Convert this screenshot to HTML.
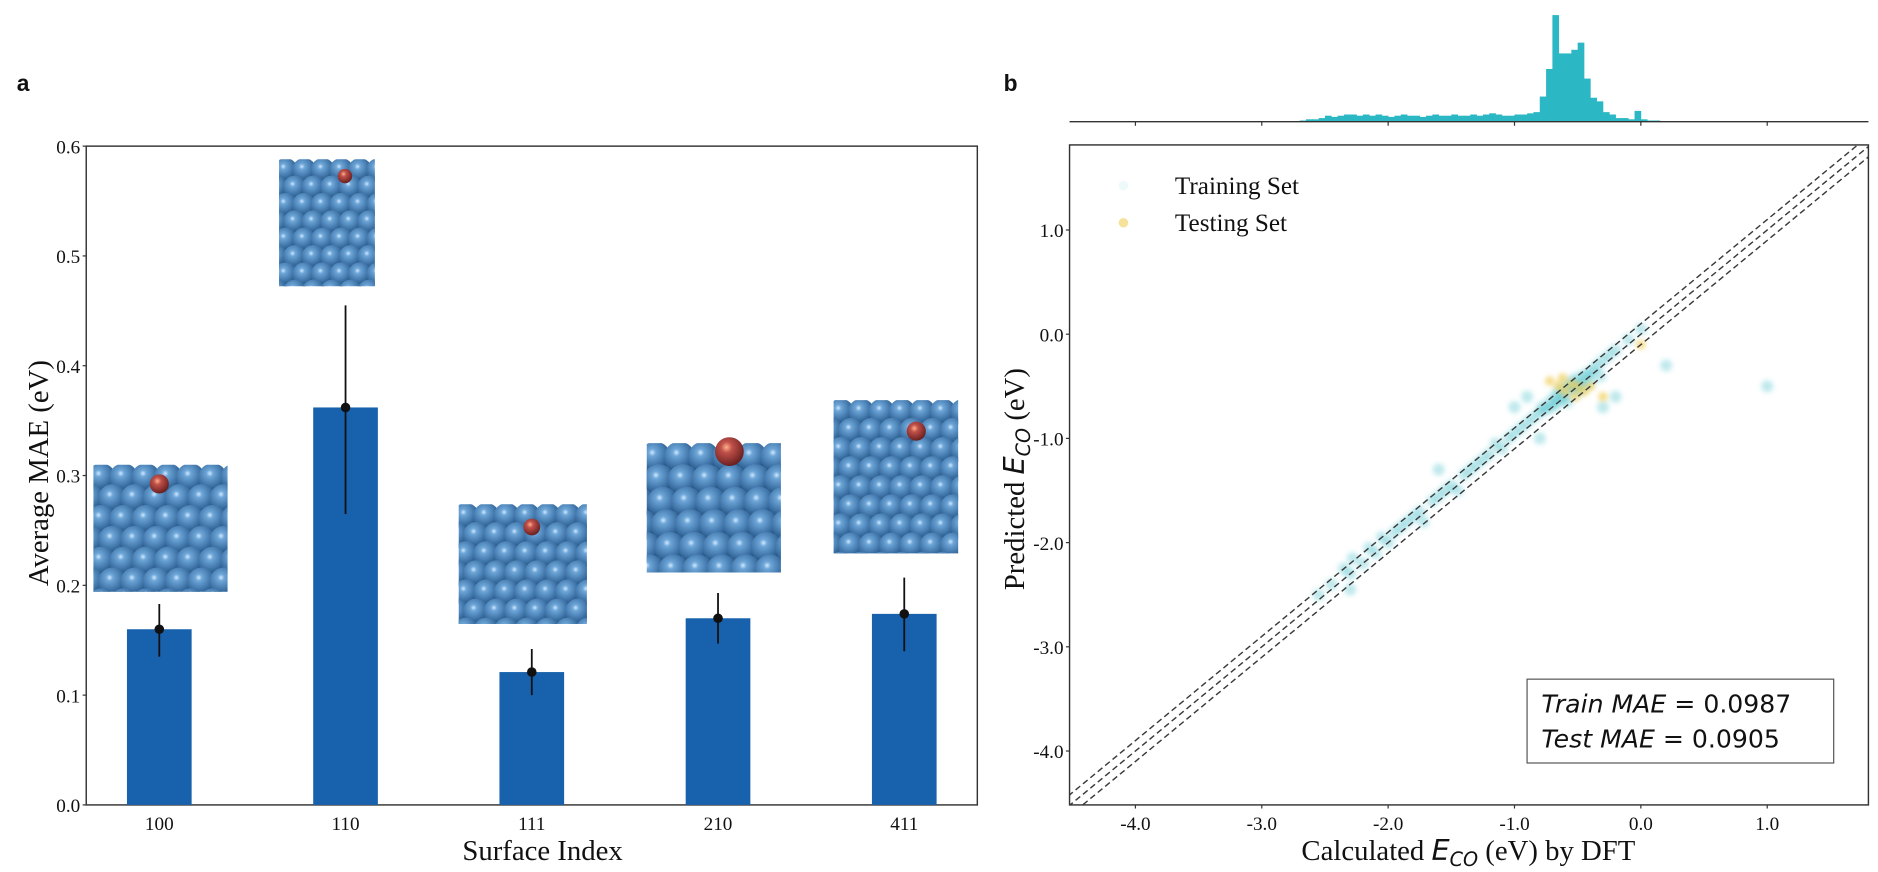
<!DOCTYPE html>
<html><head><meta charset="utf-8">
<style>
html,body{margin:0;padding:0;background:#fff;}
svg{display:block;}
text{font-family:"Liberation Serif",serif;fill:#111;}
</style></head>
<body>
<svg id="fig" width="1878" height="872" viewBox="0 0 1568 728" preserveAspectRatio="none" xmlns="http://www.w3.org/2000/svg">
<defs>
<radialGradient id="ball" cx="0.4" cy="0.35" r="0.65">
<stop offset="0" stop-color="#cfe8ff"/><stop offset="0.18" stop-color="#6ea6d8"/><stop offset="0.7" stop-color="#3a6fa3"/><stop offset="1" stop-color="#234a72"/>
</radialGradient>
<radialGradient id="oball" cx="0.4" cy="0.35" r="0.65">
<stop offset="0" stop-color="#ffb08a"/><stop offset="0.3" stop-color="#c0504a"/><stop offset="1" stop-color="#6a2020"/>
</radialGradient>
<filter id="blur" x="-50%" y="-50%" width="200%" height="200%"><feGaussianBlur stdDeviation="2"/></filter>
</defs>
<text x="14" y="76" style="font-family:'Liberation Sans',sans-serif;font-weight:bold;font-size:19px">a</text>
<text x="838" y="76" style="font-family:'Liberation Sans',sans-serif;font-weight:bold;font-size:19px">b</text>
<g id="pa"></g>
<g id="pb"></g>
</svg>
<script>
// ---- Panel a data ----
const surfaces = ["100","110","111","210","411"];
const maeValues = [0.160, 0.362, 0.121, 0.170, 0.174];
const errLow = [0.135, 0.265, 0.100, 0.147, 0.140];
const errHigh = [0.183, 0.455, 0.142, 0.193, 0.207];
const yTicksA = [0.0,0.1,0.2,0.3,0.4,0.5,0.6];
// ---- Panel b data ----
const xTicksB = [-4.0,-3.0,-2.0,-1.0,0.0,1.0];
const yTicksB = [1.0,0.0,-1.0,-2.0,-3.0,-4.0];
const trainX = [-2.55,-2.45,-2.35,-2.3,-2.28,-2.2,-2.15,-2.1,-2.05,-2.0,-1.95,-1.9,-1.85,-1.8,-1.75,-1.72,-1.65,-1.6,-1.55,-1.5,-1.45,-1.4,-1.35,-1.3,-1.25,-1.2,-1.15,-1.1,-1.05,-1.0,-0.95,-0.9,-0.85,-0.8,-0.78,-0.75,-0.72,-0.7,-0.68,-0.66,-0.65,-0.63,-0.6,-0.6,-0.58,-0.55,-0.55,-0.52,-0.5,-0.5,-0.48,-0.45,-0.45,-0.42,-0.4,-0.38,-0.35,-0.32,-0.3,-0.25,-0.2,-0.1,0.0,-0.9,-1.0,-0.3,-0.2,0.2,1.0,-1.6,-2.3,-0.8];
const trainY = [-2.5,-2.4,-2.25,-2.3,-2.15,-2.2,-2.05,-2.1,-1.95,-2.0,-1.9,-1.85,-1.8,-1.75,-1.7,-1.8,-1.6,-1.55,-1.5,-1.45,-1.5,-1.35,-1.3,-1.25,-1.2,-1.15,-1.05,-1.1,-1.0,-0.95,-0.9,-0.85,-0.8,-0.75,-0.7,-0.72,-0.65,-0.7,-0.6,-0.66,-0.55,-0.62,-0.58,-0.5,-0.65,-0.52,-0.45,-0.5,-0.55,-0.42,-0.48,-0.4,-0.5,-0.38,-0.45,-0.35,-0.3,-0.4,-0.25,-0.2,-0.15,-0.05,0.05,-0.6,-0.7,-0.7,-0.6,-0.3,-0.5,-1.3,-2.45,-1.0];
const testX = [-0.72,-0.65,-0.6,-0.55,-0.52,-0.5,-0.45,-0.62,-0.4,0.0,-0.3];
const testY = [-0.45,-0.5,-0.55,-0.48,-0.6,-0.5,-0.55,-0.42,-0.5,-0.1,-0.6];
const histStart = -2.7;
const histBinWidth = 0.05;
const histCounts = [1,2,2,3,5,4,5,6, 6,5,6,5,6,5,4,5,6,5,5,4,5,6,5,5, 6,5,5,6,5,6,7,6,5,5,6,6,7,8, 21,44,89,57,57,60,66,36,20,17,8,6,3,3,2,9,2,1,1,0.5,0.5,0];
const maeTrain = "0.0987", maeTest = "0.0905";

const NS="http://www.w3.org/2000/svg";
function mk(parent,tag,attrs,txt){const e=document.createElementNS(NS,tag);for(const k in attrs)e.setAttribute(k,attrs[k]);if(txt!==undefined)e.textContent=txt;parent.appendChild(e);return e;}

// ===== Panel A =====
const pa=document.getElementById('pa');
const aL=72,aR=816,aT=122,aB=672;
const ya=v=>aB-v/0.6*(aB-aT);
const xa=i=>133+i*155.5;
function slab(x,y,w,h,r,adsX,adsY,adsR,name,skew){
  const g=mk(pa,'g',{});
  
  
  const cp='c'+name;
  const c=mk(g,'clipPath',{id:cp});mk(c,'rect',{x:x,y:y,width:w,height:h});
  const inner=mk(g,'g',{'clip-path':'url(#'+cp+')'});
  const dx=r*1.55,dy=r*1.45;let row=0;
  for(let yy=y+r*0.9;yy<y+h+r;yy+=dy,row++){
    for(let xx=x-r+(row%2)*dx/2+(skew?row*skew:0)%dx;xx<x+w+r;xx+=dx){
      mk(inner,'circle',{cx:xx,cy:yy,r:r,fill:'url(#ball)'});
    }
  }
  if(adsX!==null) mk(g,'circle',{cx:adsX,cy:adsY,r:adsR,fill:'url(#oball)'});
}
slab(78,388,112,106,12,133,404,8,'slab-100-image',0);
slab(233,133,80,106,10,288,147,6,'slab-110-image',0);
slab(383,421,107,100,11,444,440,7,'slab-111-image',0);
slab(540,370,112,108,13,609,377,12,'slab-210-image',-7);
slab(696,334,104,128,11,765,360,8,'slab-411-image',0);
const fa=mk(pa,'rect',{x:aL,y:aT,width:aR-aL,height:aB-aT,fill:'none',stroke:'#333','stroke-width':1.2});


yTicksA.forEach(v=>{
  const t=mk(pa,'text',{x:aL-5,y:ya(v)+6,'text-anchor':'end','font-size':16},v.toFixed(1));
  
  
  mk(pa,'line',{x1:aL-3,x2:aL,y1:ya(v),y2:ya(v),stroke:'#333'});
});
surfaces.forEach((s,i)=>{
  const b=mk(pa,'rect',{x:xa(i)-27,y:ya(maeValues[i]),width:54,height:aB-ya(maeValues[i]),fill:'#1862ad'});
  
  
  const e=mk(pa,'line',{x1:xa(i),x2:xa(i),y1:ya(errHigh[i]),y2:ya(errLow[i]),stroke:'#111','stroke-width':1.5});
  
  
  mk(pa,'circle',{cx:xa(i),cy:ya(maeValues[i]),r:4,fill:'#111'});
  const t=mk(pa,'text',{x:xa(i),y:aB+21,'text-anchor':'middle','font-size':16},s);
  
  
});
let t=mk(pa,'text',{x:453,y:718,'text-anchor':'middle','font-size':24},'Surface Index');


t=mk(pa,'text',{x:0,y:0,'text-anchor':'middle','font-size':24,transform:'translate(40,395) rotate(-90)'},'Average MAE (eV)');



// ===== Panel B =====
const pb=document.getElementById('pb');
const bL=893,bR=1560,bT=121,bB=672;
const xb=v=>1370+v*105.5;
const yb=v=>279-v*87;
const hb=mk(pb,'g',{});


histCounts.forEach((c,i)=>{
  const x0=xb(histStart+i*histBinWidth),x1=xb(histStart+(i+1)*histBinWidth);
  const r=mk(hb,'rect',{x:x0,y:101.6-c,width:x1-x0+0.3,height:c,fill:'#2bb8c4'});
  
  
});
mk(hb,'line',{x1:bL,x2:bR,y1:101.6,y2:101.6,stroke:'#333','stroke-width':1.2});
xTicksB.forEach(v=>mk(hb,'line',{x1:xb(v),x2:xb(v),y1:101.6,y2:105,stroke:'#333'}));
const sc=mk(pb,'g',{filter:'url(#blur)'});


trainX.forEach((x,i)=>{
  const c=mk(sc,'circle',{cx:xb(x),cy:yb(trainY[i]),r:5,fill:'#2bb5c2','fill-opacity':0.3});
  
  
});
const tc=mk(pb,'g',{filter:'url(#blur)'});


testX.forEach((x,i)=>{
  const c=mk(tc,'circle',{cx:xb(x),cy:yb(testY[i]),r:4,fill:'#f2cf5a','fill-opacity':0.7});
  
  
});
const clip=mk(pb,'clipPath',{id:'bclip'});mk(clip,'rect',{x:bL,y:bT,width:bR-bL,height:bB-bT});
[-0.1,0,0.1].forEach(o=>{
  const l=mk(pb,'line',{x1:xb(-5),y1:yb(-5+o),x2:xb(2),y2:yb(2+o),stroke:'#3a3a3a','stroke-width':1.2,'stroke-dasharray':'5,3','clip-path':'url(#bclip)'});
  
  
});
const fb=mk(pb,'rect',{x:bL,y:bT,width:bR-bL,height:bB-bT,fill:'none',stroke:'#333','stroke-width':1.2});


xTicksB.forEach(v=>{
  mk(pb,'line',{x1:xb(v),x2:xb(v),y1:bB,y2:bB+3,stroke:'#333'});
  const t=mk(pb,'text',{x:xb(v),y:bB+21,'text-anchor':'middle','font-size':16},v.toFixed(1));
  
  
});
yTicksB.forEach(v=>{
  mk(pb,'line',{x1:bL-3,x2:bL,y1:yb(v),y2:yb(v),stroke:'#333'});
  const t=mk(pb,'text',{x:bL-5,y:yb(v)+6,'text-anchor':'end','font-size':16},v.toFixed(1));
  
  
});
const lg=mk(pb,'g',{});


mk(lg,'circle',{cx:938,cy:155,r:4,fill:'#2bb5c2','fill-opacity':0.08});
mk(lg,'text',{x:981,y:162,'font-size':21},'Training Set');
mk(lg,'circle',{cx:938,cy:186,r:4,fill:'#f2cf5a','fill-opacity':0.6});
mk(lg,'text',{x:981,y:193,'font-size':21},'Testing Set');
const mb=mk(pb,'g',{});


mk(mb,'rect',{x:1275,y:567,width:256,height:70,fill:'#fff',stroke:'#555','stroke-width':1});
mk(mb,'text',{x:1287,y:595,'font-size':21,style:'font-family:"DejaVu Sans",sans-serif'}).innerHTML='<tspan font-style="italic">Train MAE</tspan> = '+maeTrain;
mk(mb,'text',{x:1287,y:624,'font-size':21,style:'font-family:"DejaVu Sans",sans-serif'}).innerHTML='<tspan font-style="italic">Test MAE</tspan> = '+maeTest;
t=mk(pb,'text',{x:1226,y:718,'text-anchor':'middle','font-size':24});
t.innerHTML='Calculated <tspan font-style="italic" style="font-family:\'DejaVu Sans\',sans-serif">E</tspan><tspan font-style="italic" font-size="16" dy="5" style="font-family:\'DejaVu Sans\',sans-serif">CO</tspan><tspan dy="-5"> (eV) by DFT</tspan>';


t=mk(pb,'text',{x:0,y:0,'text-anchor':'middle','font-size':24,transform:'translate(855,400) rotate(-90)'});
t.innerHTML='Predicted <tspan font-style="italic" style="font-family:\'DejaVu Sans\',sans-serif">E</tspan><tspan font-style="italic" font-size="16" dy="5" style="font-family:\'DejaVu Sans\',sans-serif">CO</tspan><tspan dy="-5"> (eV)</tspan>';


</script>
</body></html>
